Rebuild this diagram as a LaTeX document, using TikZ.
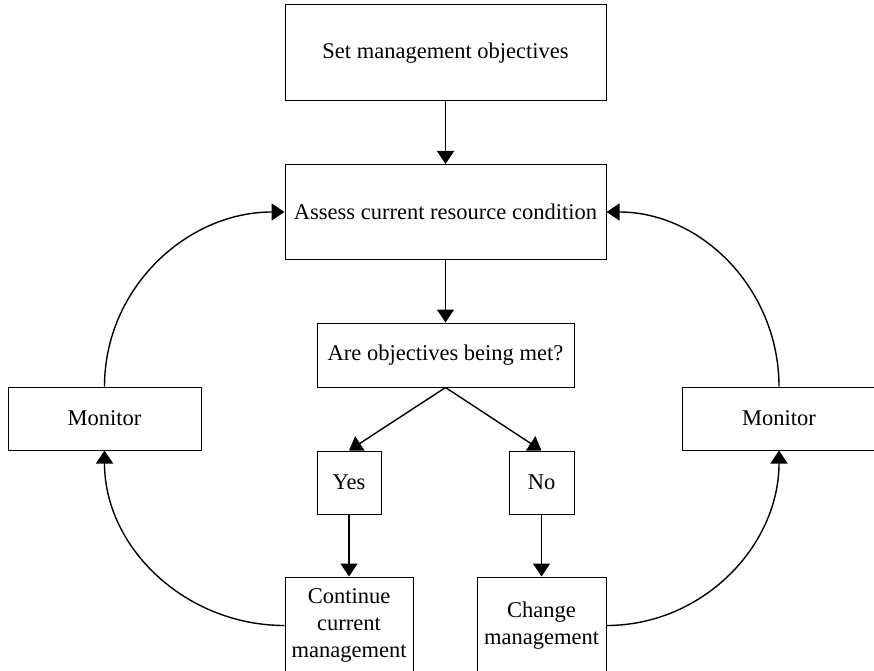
\documentclass[tikz,border=0pt]{standalone}
\usepackage{fontspec}
\setmainfont{Liberation Serif}
\usepackage{tikz}
\usetikzlibrary{arrows.meta,positioning}

\begin{document}
\begin{tikzpicture}[x=1pt, y=1pt, >={Triangle[length=13pt, width=17pt]}, font=\fontsize{22.5}{27}\selectfont]
\tikzstyle{box}=[draw, line width=1pt, rectangle, align=center, inner sep=0pt]
\tikzstyle{flow}=[->, line width=1.4pt]
\path[use as bounding box, clip] (0,0) rectangle (874,670);
\node[box, minimum width=321, minimum height=96] (setobj) at (445.5,617) {Set management objectives};
\node[box, minimum width=321, minimum height=95] (assess) at (445.5,458) {Assess current resource condition};
\node[box, minimum width=257, minimum height=64] (met) at (445.5,315) {Are objectives being met?};
\node[box, minimum width=64, minimum height=63] (yes) at (349,187.5) {Yes};
\node[box, minimum width=65, minimum height=63] (no) at (541.5,187.5) {No};
\node[box, minimum width=128, minimum height=97] (keep) at (349,44.5) {Continue\\current\\management};
\node[box, minimum width=129, minimum height=97] (change) at (541.5,44.5) {Change\\management};
\node[box, minimum width=193, minimum height=63] (monL) at (104.5,251.5) {Monitor};
\node[box, minimum width=193, minimum height=63] (monR) at (779,251.5) {Monitor};
\draw[flow] (setobj) -- (assess);
\draw[flow] (assess) -- (met);
\draw[flow] (met.south) -- (yes.north);
\draw[flow] (met.south) -- (no.north);
\draw[flow] (yes) -- (keep);
\draw[flow] (no) -- (change);
% feedback loops
\draw[flow] (keep.west) to[out=180, in=270] (monL.south);
\draw[flow] (monL.north) to[out=90, in=180] (assess.west);
\draw[flow] (change.east) to[out=0, in=270] (monR.south);
\draw[flow] (monR.north) to[out=90, in=0] (assess.east);
\end{tikzpicture}
\end{document}
